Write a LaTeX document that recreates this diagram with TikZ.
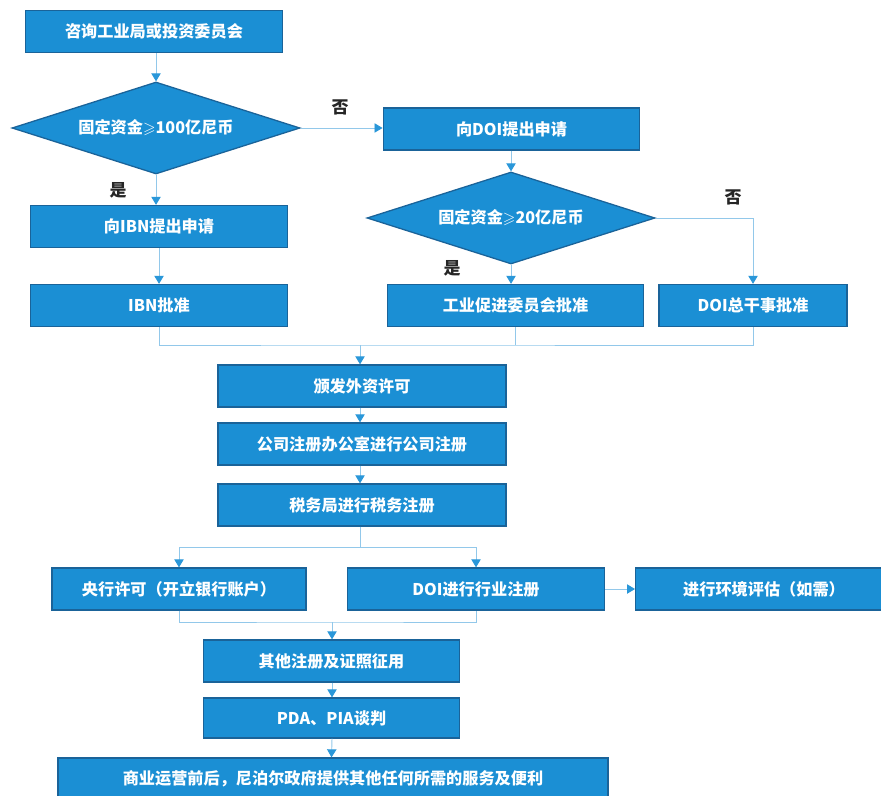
\documentclass[tikz,border=0pt]{standalone}
\usepackage{fontspec}
\usepackage{amssymb}
\setmainfont{Noto Sans CJK SC}
\usetikzlibrary{arrows.meta,positioning,shapes.geometric}
\definecolor{boxblue}{HTML}{1B8FD4}
\definecolor{edgeblue}{HTML}{1A6399}
\definecolor{lineblue}{HTML}{92C8EA}
\definecolor{tipblue}{HTML}{2A97D9}

\begin{document}
\begin{tikzpicture}[
    x=0.03cm, y=-0.03cm,
    every node/.style={font=\fontsize{13.8}{16}\selectfont\bfseries},
    box/.style={rectangle, fill=boxblue, draw=edgeblue, line width=1.1pt, text=white,
                minimum width=7.7cm, minimum height=1.26cm, inner sep=0pt},
    dec/.style={diamond, fill=boxblue, draw=edgeblue, line width=1.1pt, text=white,
                aspect=3.1, minimum width=8.64cm, minimum height=2.76cm, inner sep=0pt},
    yn/.style={text=black!85, font=\fontsize{14.5}{16}\selectfont\bfseries},
    ln/.style={draw=lineblue, line width=0.8pt},
    arr/.style={ln, -{Triangle[length=2.4mm, width=2.8mm, color=tipblue]}}
]
\useasboundingbox (0,0) rectangle (881,796);
\clip (0,0) rectangle (881,796);
\node[box] (ask) at (154,31.5) {咨询工业局或投资委员会};
\node[dec] (d1) at (156,128) {固定资金$\geqslant$100亿尼币};
\node[box] (ibnapp) at (159,226.5) {向IBN提出申请};
\node[box] (ibnok) at (159,305.5) {IBN批准};
\node[box] (doiapp) at (511.5,129) {向DOI提出申请};
\node[dec] (d2) at (511,218) {固定资金$\geqslant$20亿尼币};
\node[box] (ipb) at (515.5,305.5) {工业促进委员会批准};
\node[box, minimum width=5.64cm] (doidg) at (753,305.5) {DOI总干事批准};
\node[box, minimum width=8.64cm] (fil) at (362,386) {颁发外资许可};
\node[box, minimum width=8.64cm] (reg) at (362,444) {公司注册办公室进行公司注册};
\node[box, minimum width=8.64cm] (tax) at (362,505) {税务局进行税务注册};
\node[box, minimum width=7.62cm] (bank) at (179,589) {央行许可（开立银行账户）};
\node[box] (doireg) at (476,589) {DOI进行行业注册};
\node[box] (env) at (764,589) {进行环境评估（如需）};
\node[box] (other) at (331.5,661) {其他注册及证照征用};
\node[box, minimum height=1.2cm] (pda) at (331.5,718) {PDA、PIA谈判};
\node[box, minimum width=16.5cm] (final) at (333,779) {商业运营前后，尼泊尔政府提供其他任何所需的服务及便利};
\node[yn] (no1) at (340,107) {否};
\node[yn] (yes1) at (118,190) {是};
\node[yn] (yes2) at (452,268) {是};
\node[yn] (no2) at (733,197) {否};
\coordinate (m1) at (360,345);
\coordinate (s1) at (360,547);
\coordinate (m2) at (332,622);
\draw[arr] (d1.north |- ask.south) -- (d1.north);
\draw[arr] (d1.east) -- (d1.east -| doiapp.west);
\draw[arr] (d1.south) -- (d1.south |- ibnapp.north);
\draw[arr] (ibnapp) -- (ibnok);
\draw[arr] (d2.north |- doiapp.south) -- (d2.north);
\draw[arr] (d2.south) -- (d2.south |- ipb.north);
\draw[arr] (d2.east) -| (doidg.north);
\draw[ln] (ibnok.south) |- (m1) -| (doidg.south);
\draw[ln] (ipb.south) -- (ipb.south |- m1);
\draw[arr] (m1) -- (m1 |- fil.north);
\draw[arr] (fil.south -| m1) -- (reg.north -| m1);
\draw[arr] (reg.south -| m1) -- (tax.north -| m1);
\draw[ln] (tax.south -| s1) -- (s1);
\draw[arr] (s1) -| (bank.north);
\draw[arr] (s1) -| (doireg.north);
\draw[arr] (doireg) -- (env);
\draw[ln] (bank.south) |- (m2) -| (doireg.south);
\draw[arr] (m2) -- (m2 |- other.north);
\draw[arr] (other.south -| m2) -- (pda.north -| m2);
\draw[arr] (pda.south -| m2) -- (pda.south |- final.north);
\end{tikzpicture}
\end{document}
